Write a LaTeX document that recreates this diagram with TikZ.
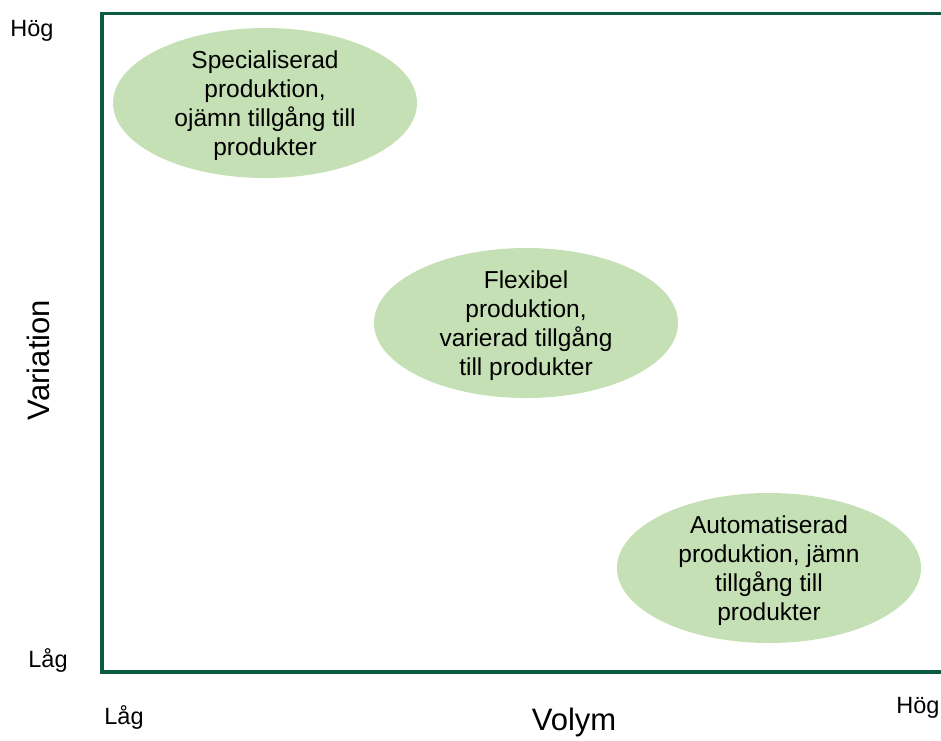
\documentclass[tikz,border=0pt]{standalone}
\usepackage{fontspec}
\setmainfont{Liberation Sans}
\usetikzlibrary{shapes.geometric}
\definecolor{axisgreen}{RGB}{12,90,67}
\definecolor{ellgreen}{RGB}{197,224,180}
\begin{document}
\begin{tikzpicture}[x=1pt,y=-1pt,
  blob/.style={ellipse, fill=ellgreen, draw=none, minimum width=304pt, minimum height=150pt, inner sep=0pt},
  blobtext/.style={align=center, font=\fontsize{24.5}{29}\selectfont, text=black, yshift=-2.5pt},
  small/.style={font=\fontsize{23.5}{28}\selectfont, inner sep=0pt},
  big/.style={font=\fontsize{31}{36}\selectfont, inner sep=0pt}]
\useasboundingbox (0,0) rectangle (941,740);
\coordinate (tl) at (102,13.5);
\coordinate (tr) at (945,13.5);
\coordinate (bl) at (102,672);
\coordinate (br) at (945,672);
\draw[axisgreen, line width=3.5pt] (tr) -- (tl) -- (bl) -- (br);
\node[blob] (e1) at (265,103) {};
\node[blobtext] (t1) at (e1) {Specialiserad\\produktion,\\ojämn tillgång till\\produkter};
\node[blob] (e2) at (526,323) {};
\node[blobtext] (t2) at (e2) {Flexibel\\produktion,\\varierad tillgång\\till produkter};
\node[blob] (e3) at (769,568) {};
\node[blobtext] (t3) at (e3) {Automatiserad\\produktion, jämn\\tillgång till\\produkter};
\node[small] (hy) at (32,31) {Hög};
\node[small] (ly) at (48,660) {Låg};
\node[small] (lx) at (124,717) {Låg};
\node[small] (hx) at (918,708) {Hög};
\node[big, rotate=90] (vy) at (38,360) {Variation};
\node[big] (vx) at (574,722) {Volym};
\end{tikzpicture}
\end{document}
